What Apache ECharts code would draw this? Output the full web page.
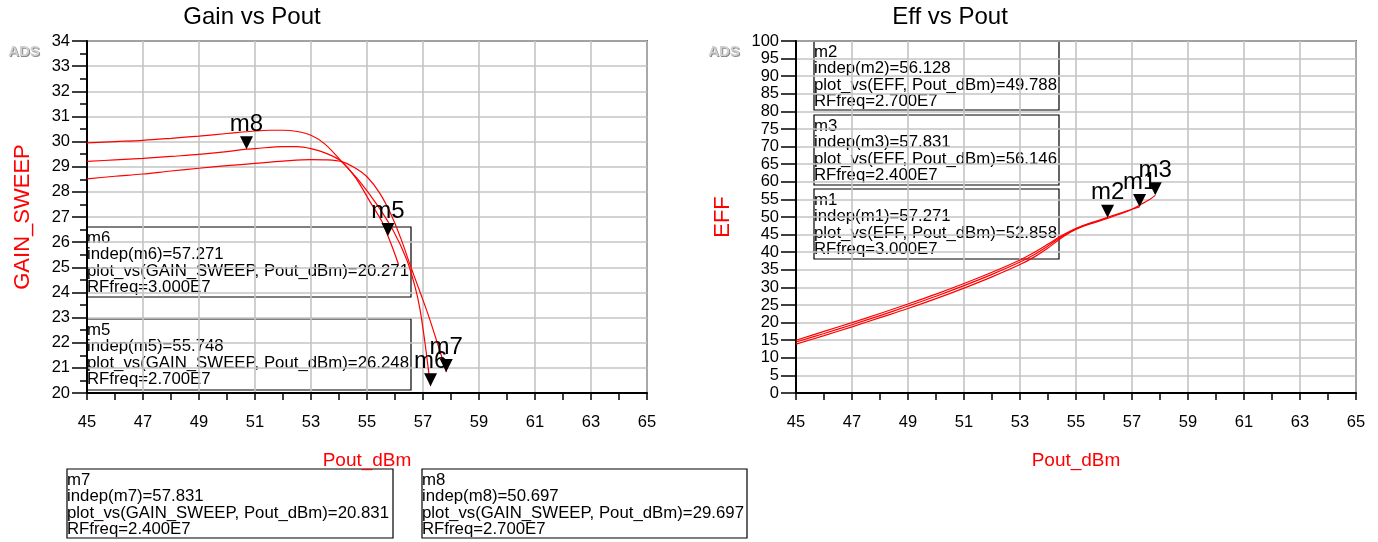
<!DOCTYPE html>
<html>
<head>
<meta charset="utf-8">
<script src="https://cdn.jsdelivr.net/npm/echarts@6/dist/echarts.min.js"></script>
<style>
  html, body { margin: 0; background: #fff; }
  #main { width: 1378px; height: 542px; }
</style>
</head>
<body>
<div id="main"></div>
<script>
// Gain curves (Pout_dBm / GAIN_SWEEP), one pair of arrays per RFfreq
const gainPout30 = [45, 46, 47, 48, 49, 50, 51, 51.5, 52, 52.5, 53, 53.5, 54.1, 54.75, 55.35, 55.94, 56.42, 56.71, 56.89, 57.07, 57.19, 57.271];
const gain30 = [29.95, 30.0, 30.05, 30.13, 30.22, 30.32, 30.42, 30.45, 30.45, 30.4, 30.25, 29.9, 29.2, 28.4, 27.5, 26.45, 25.3, 24.25, 23.35, 22.0, 20.95, 20.271];
const gainPout27 = [45, 46, 47, 48, 49, 50, 50.697, 51, 52, 52.5, 53, 53.5, 54.1, 54.63, 55.11, 55.52, 55.748, 55.94, 56.128];
const gain27 = [29.21, 29.27, 29.33, 29.41, 29.49, 29.6, 29.697, 29.72, 29.8, 29.8, 29.72, 29.55, 29.2, 28.5, 27.6, 26.85, 26.248, 25.7, 25.1];
const gainPout24 = [45, 46, 47, 48, 49, 50, 51, 52, 53, 53.6, 54.1, 54.55, 55.0, 55.46, 55.88, 56.24, 56.57, 56.9, 57.22, 57.48, 57.68, 57.831];
const gain24 = [28.52, 28.62, 28.71, 28.83, 28.94, 29.04, 29.13, 29.22, 29.28, 29.27, 29.2, 28.97, 28.6, 27.94, 27.05, 26.05, 25.0, 24.0, 23.0, 22.1, 21.4, 20.831];

// Efficiency curves (Pout_dBm / EFF)
const effPout30 = [45, 46, 47, 48, 49, 50, 51, 52, 53, 53.5, 54, 54.4, 54.8, 55.2, 55.7, 56.2, 56.7, 57, 57.271];
const eff30 = [15.0, 17.5, 20.0, 22.6, 25.3, 28.1, 31.1, 34.3, 37.8, 39.9, 42.3, 44.3, 46.0, 47.4, 48.8, 50.1, 51.4, 52.2, 52.858];
const effPout27 = [45, 46, 47, 48, 49, 50, 51, 52, 53, 53.5, 54, 54.4, 54.8, 55.2, 55.7, 56.128];
const eff27 = [14.5, 16.9, 19.4, 22.0, 24.7, 27.5, 30.5, 33.7, 37.2, 39.3, 41.8, 44.0, 45.9, 47.3, 48.6, 49.788];
const effPout24 = [45, 46, 47, 48, 49, 50, 51, 52, 53, 53.5, 54, 54.4, 54.8, 55.2, 55.7, 56.2, 56.7, 57, 57.3, 57.6, 57.831];
const eff24 = [13.9, 16.3, 18.8, 21.4, 24.0, 26.8, 29.8, 33.0, 36.5, 38.6, 41.2, 43.6, 45.7, 47.2, 48.5, 49.8, 51.2, 52.2, 53.5, 54.8, 56.146];

// Markers
const gainMarkerNames = ['m5', 'm6', 'm7', 'm8'];
const gainMarkerX = [55.748, 57.271, 57.831, 50.697];
const gainMarkerY = [26.248, 20.271, 20.831, 29.697];
const gainMarkerRF = ['2.700E7', '3.000E7', '2.400E7', '2.700E7'];
const effMarkerNames = ['m1', 'm2', 'm3'];
const effMarkerX = [57.271, 56.128, 57.831];
const effMarkerY = [52.858, 49.788, 56.146];
const effMarkerRF = ['3.000E7', '2.700E7', '2.400E7'];

const FONT = '"Liberation Sans", Arial, sans-serif';

function zip(xs, ys) {
    return xs.map((x, i) => [x, ys[i]]);
}

function xAxisCfg(gridIndex) {
    return {
        type: 'value', gridIndex: gridIndex,
        min: 45, max: 65, interval: 2,
        name: 'Pout_dBm', nameLocation: 'middle', nameGap: 58,
        nameTextStyle: { color: '#ff0000', fontSize: 19, fontFamily: FONT },
        axisLine: { lineStyle: { color: '#000', width: 2 } },
        axisTick: { length: 7, lineStyle: { color: '#000', width: 1.5 } },
        minorTick: { show: true, splitNumber: 2, length: 7, lineStyle: { color: '#000', width: 1.5 } },
        axisLabel: { color: '#000', fontSize: 16.5, fontFamily: FONT, margin: 21 },
        splitLine: { lineStyle: { color: '#c4c4c4', width: 1.6 } }
    };
}

function yAxisCfg(gridIndex, name, min, max, interval, gap, minor) {
    return {
        type: 'value', gridIndex: gridIndex,
        min: min, max: max, interval: interval,
        name: name, nameLocation: 'middle', nameGap: gap,
        nameTextStyle: { color: '#ff0000', fontSize: 22, fontFamily: FONT },
        axisLine: { show: true, lineStyle: { color: '#000', width: 2 } },
        axisTick: { show: true, length: 15, lineStyle: { color: '#000', width: 1.5 } },
        minorTick: { show: minor, splitNumber: 2, length: 7, lineStyle: { color: '#000', width: 1.5 } },
        axisLabel: { color: '#000', fontSize: 16.5, fontFamily: FONT, margin: 17 },
        splitLine: { lineStyle: { color: '#c4c4c4', width: 1.6 } }
    };
}

function curve(xIdx, pts) {
    return {
        type: 'line', xAxisIndex: xIdx, yAxisIndex: xIdx,
        data: pts, showSymbol: false, smooth: 0.35,
        lineStyle: { color: '#ff0000', width: 1.2 }, silent: true
    };
}

function markers(xIdx, names, xs, ys) {
    return {
        type: 'scatter', xAxisIndex: xIdx, yAxisIndex: xIdx, z: 5,
        symbol: 'path://M0,0L12,0L6,12Z', symbolSize: [13, 13], symbolOffset: [0, '-50%'],
        itemStyle: { color: '#000', opacity: 1 },
        label: { show: true, position: 'top', distance: 0, formatter: '{b}', color: '#000', fontSize: 24, fontFamily: FONT },
        data: names.map((n, i) => ({ name: n, value: [xs[i], ys[i]] }))
    };
}

function markerBox(x, y, w, h, lines) {
    return {
        type: 'group', x: x, y: y, z: 10,
        children: [
            { type: 'rect', shape: { x: 0, y: 0, width: w, height: h }, style: { fill: 'none', stroke: '#000', lineWidth: 1.2 } },
            { type: 'text', x: 0, y: 3, style: { text: lines.join('\n'), fill: '#000', fontSize: 16.8, fontFamily: FONT, lineHeight: 16.5 } }
        ]
    };
}

function gainLines(i) {
    const n = gainMarkerNames[i];
    return [n, `indep(${n})=${gainMarkerX[i].toFixed(3)}`, `plot_vs(GAIN_SWEEP, Pout_dBm)=${gainMarkerY[i].toFixed(3)}`, `RFfreq=${gainMarkerRF[i]}`];
}
function effLines(i) {
    const n = effMarkerNames[i];
    return [n, `indep(${n})=${effMarkerX[i].toFixed(3)}`, `plot_vs(EFF, Pout_dBm)=${effMarkerY[i].toFixed(3)}`, `RFfreq=${effMarkerRF[i]}`];
}

function adsLogo(x, y) {
    return [
        { type: 'text', x: x + 1, y: y + 1, style: { text: 'ADS', fill: '#8a8a8a', fontSize: 15, fontWeight: 'bold', fontFamily: FONT, align: 'center', verticalAlign: 'middle' } },
        { type: 'text', x: x, y: y, style: { text: 'ADS', fill: '#d0d0d0', fontSize: 15, fontWeight: 'bold', fontFamily: FONT, align: 'center', verticalAlign: 'middle' } }
    ];
}

let myChart = echarts.init(document.getElementById('main'));
let option = {
    animation: false,
    backgroundColor: '#fff',
    grid: [
        { left: 87, right: 731, top: 41, bottom: 149, show: true, borderColor: '#000', borderWidth: 1.5 },
        { left: 796, right: 22, top: 41, bottom: 149, show: true, borderColor: '#000', borderWidth: 1.5 }
    ],
    xAxis: [xAxisCfg(0), xAxisCfg(1)],
    yAxis: [
        yAxisCfg(0, 'GAIN_SWEEP', 20, 34, 1, 53, true),
        yAxisCfg(1, 'EFF', 0, 100, 5, 62, false)
    ],
    series: [
        curve(0, zip(gainPout30, gain30)),
        curve(0, zip(gainPout27, gain27)),
        curve(0, zip(gainPout24, gain24)),
        curve(1, zip(effPout30, eff30)),
        curve(1, zip(effPout27, eff27)),
        curve(1, zip(effPout24, eff24)),
        markers(0, gainMarkerNames, gainMarkerX, gainMarkerY),
        markers(1, effMarkerNames, effMarkerX, effMarkerY)
    ],
    graphic: [
        { type: 'text', x: 252, y: 17, style: { text: 'Gain vs Pout', fill: '#000', fontSize: 24, fontFamily: FONT, align: 'center', verticalAlign: 'middle' } },
        { type: 'text', x: 950, y: 17, style: { text: 'Eff vs Pout', fill: '#000', fontSize: 24, fontFamily: FONT, align: 'center', verticalAlign: 'middle' } },
        ...adsLogo(24, 52),
        ...adsLogo(724, 52),
        markerBox(87, 227, 324, 70, gainLines(1)),
        markerBox(87, 319, 324, 71, gainLines(0)),
        markerBox(67, 469, 326, 69, gainLines(2)),
        markerBox(422, 469, 325, 69, gainLines(3)),
        markerBox(814, 41, 245, 69, effLines(1)),
        markerBox(814, 115, 245, 70, effLines(2)),
        markerBox(814, 189, 245, 70, effLines(0))
    ]
};
myChart.setOption(option);
</script>
</body>
</html>
